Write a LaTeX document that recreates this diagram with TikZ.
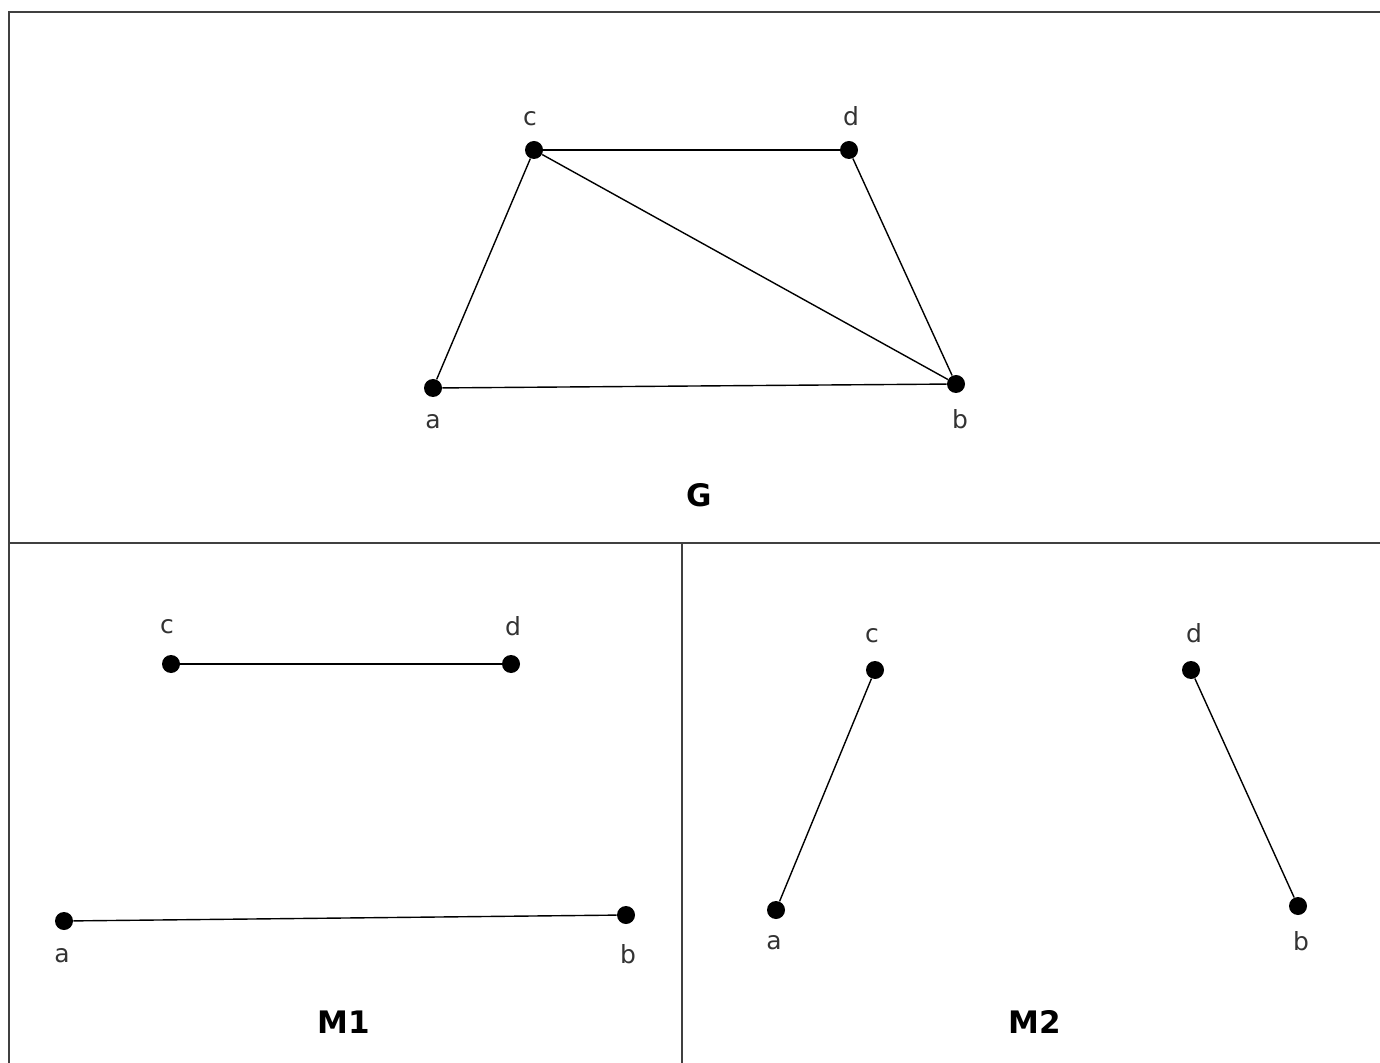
\documentclass[tikz,border=0pt]{standalone}
\usepackage{fontspec}
\setmainfont{DejaVu Sans}
\usetikzlibrary{positioning}
\begin{document}
\begin{tikzpicture}[x=0.5pt,y=-0.5pt,
  vtx/.style={circle,fill=black,inner sep=0pt,minimum size=9pt},
  lbl/.style={inner sep=0pt,text height=9.5pt,text depth=0pt,text=black!80,font=\fontsize{12.5}{15}\selectfont},
  ttl/.style={font=\fontsize{15.5}{18}\selectfont\bfseries},
  edge/.style={line width=0.7pt},
  panel/.style={line width=1pt,draw=black!75}]
\useasboundingbox (0,0) rectangle (1380,1063);
% panel frame
\draw[panel] (9,1063) -- (9,12) -- (1380,12);
\draw[panel] (9,543) -- (1380,543);
\draw[panel] (682,543) -- (682,1063);
% graph G
\node[vtx] (Gc) at (534,150) {};
\node[vtx] (Gd) at (849,150) {};
\node[vtx] (Ga) at (433,388) {};
\node[vtx] (Gb) at (956,384) {};
\node[lbl,above=7.5pt of Gc,xshift=-2pt] (Gcl) {c};
\node[lbl,above=7.5pt of Gd,xshift=1pt] (Gdl) {d};
\node[lbl,below=6pt of Ga] (Gal) {a};
\node[lbl,below=8pt of Gb,xshift=2pt] (Gbl) {b};
\draw[edge] (Gc) -- (Gd);
\draw[edge] (Gc) -- (Ga);
\draw[edge] (Gc) -- (Gb);
\draw[edge] (Gd) -- (Gb);
\draw[edge] (Ga) -- (Gb);
\node[ttl] (Gt) at (699,495) {G};
% matching M1
\node[vtx] (Ac) at (171,664) {};
\node[vtx] (Ad) at (511,664) {};
\node[vtx] (Aa) at (64,921) {};
\node[vtx] (Ab) at (626,915) {};
\node[lbl,above=10.5pt of Ac,xshift=-2pt] (Acl) {c};
\node[lbl,above=9.5pt of Ad,xshift=1pt] (Adl) {d};
\node[lbl,below=6.5pt of Aa,xshift=-1pt] (Aal) {a};
\node[lbl,below=10pt of Ab,xshift=1pt] (Abl) {b};
\draw[edge] (Ac) -- (Ad);
\draw[edge] (Aa) -- (Ab);
\node[ttl] (At) at (344,1022) {M1};
% matching M2
\node[vtx] (Bc) at (875,670) {};
\node[vtx] (Bd) at (1191,670) {};
\node[vtx] (Ba) at (776,910) {};
\node[vtx] (Bb) at (1298,906) {};
\node[lbl,above=9pt of Bc,xshift=-1.5pt] (Bcl) {c};
\node[lbl,above=9pt of Bd,xshift=1.5pt] (Bdl) {d};
\node[lbl,below=5.5pt of Ba,xshift=-1pt] (Bal) {a};
\node[lbl,below=8pt of Bb,xshift=1.5pt] (Bbl) {b};
\draw[edge] (Bc) -- (Ba);
\draw[edge] (Bd) -- (Bb);
\node[ttl] (Bt) at (1035,1022) {M2};
\end{tikzpicture}
\end{document}
